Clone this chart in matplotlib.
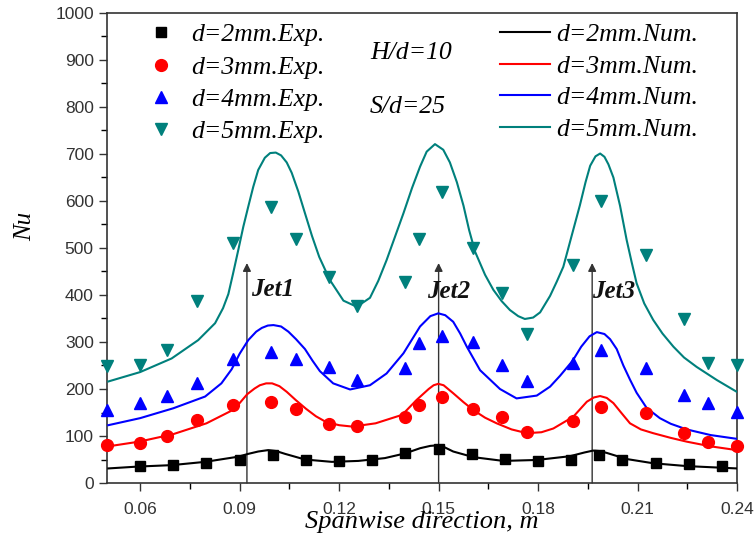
import numpy as np
import matplotlib
matplotlib.use("Agg")
import matplotlib.pyplot as plt
from matplotlib.lines import Line2D
from matplotlib.ticker import MultipleLocator, FormatStrFormatter

# --- experimental points (d = 3, 4, 5 mm share the same x positions) ---
x_exp = [0.050, 0.060, 0.068, 0.077, 0.088, 0.0995, 0.107, 0.117, 0.1255, 0.140, 0.144,
         0.151, 0.1605, 0.169, 0.1767, 0.1905, 0.199, 0.2125, 0.224, 0.2313, 0.240]
nu_exp_3 = [81, 86, 99, 134, 166, 172, 157, 125, 121, 140, 166,
            182, 157, 141, 108, 132, 161, 150, 107, 88, 79]
nu_exp_4 = [155, 171, 185, 213, 263, 278, 264, 247, 219, 244, 297,
            313, 301, 250, 217, 255, 283, 244, 187, 170, 152]
nu_exp_5 = [249, 251, 284, 388, 510, 588, 519, 439, 377, 428, 520,
            620, 501, 405, 318, 464, 599, 485, 348, 255, 251]

x_exp_2 = [0.060, 0.070, 0.080, 0.090, 0.100, 0.110, 0.120, 0.130, 0.140, 0.150,
           0.160, 0.170, 0.180, 0.190, 0.1984, 0.2052, 0.2156, 0.2256, 0.2353]
nu_exp_2 = [36, 38, 43, 49, 60, 48, 46, 50, 63, 72,
            62, 52, 47, 48, 60, 50, 43, 40, 36]

# --- numerical curves ---
x_num_2 = [0.0504, 0.0594, 0.0695, 0.0796, 0.0896, 0.0926, 0.0956, 0.0986, 0.1010, 0.1037,
           0.1097, 0.1178, 0.1258, 0.1338, 0.1399, 0.1444, 0.1475, 0.1494, 0.1515, 0.1544,
           0.1605, 0.1695, 0.1796, 0.1896, 0.1940, 0.1966, 0.1985, 0.2007, 0.2067, 0.2147,
           0.2248, 0.2399]
nu_num_2 = [31, 35, 38, 45, 56, 62, 67, 70, 68, 62,
            50, 45, 47, 53, 63, 74, 79, 80, 77, 67,
            55, 47, 49, 57, 65, 69, 68, 64, 51, 42,
            36, 31]

x_num_3 = [0.0504, 0.0597, 0.0700, 0.0800, 0.0873, 0.0900, 0.0923, 0.0945, 0.0961, 0.0980,
           0.0998, 0.1020, 0.1042, 0.1070, 0.1100, 0.1130, 0.1160, 0.1200, 0.1240, 0.1310,
           0.1390, 0.1434, 0.1470, 0.1485, 0.1499, 0.1515, 0.1544, 0.1575, 0.1605, 0.1640,
           0.1675, 0.1720, 0.1766, 0.1810, 0.1846, 0.1906, 0.1947, 0.1968, 0.1987, 0.2007,
           0.2027, 0.2050, 0.2077, 0.2110, 0.2147, 0.2200, 0.2248, 0.2320, 0.2399]
nu_num_3 = [78, 88, 104, 127, 153, 170, 189, 201, 208, 212,
            212, 206, 194, 176, 158, 142, 130, 123, 120, 127,
            145, 177, 200, 208, 211, 208, 191, 172, 155, 139,
            127, 114, 106, 108, 116, 141, 173, 182, 185, 181,
            170, 150, 127, 114, 106, 96, 88, 78, 70]

x_num_4 = [0.0504, 0.0600, 0.0700, 0.0796, 0.0845, 0.0876, 0.0900, 0.0926, 0.0950, 0.0967,
           0.0985, 0.1002, 0.1025, 0.1047, 0.1070, 0.1097, 0.1120, 0.1142, 0.1182, 0.1233,
           0.1293, 0.1343, 0.1394, 0.1444, 0.1475, 0.1499, 0.1520, 0.1544, 0.1565, 0.1585,
           0.1625, 0.1685, 0.1735, 0.1796, 0.1836, 0.1866, 0.1904, 0.1930, 0.1955, 0.1977,
           0.2000, 0.2017, 0.2037, 0.2057, 0.2077, 0.2097, 0.2127, 0.2167, 0.2200, 0.2248,
           0.2320, 0.2399]
nu_num_4 = [123, 138, 159, 184, 212, 242, 275, 304, 322, 330,
            335, 336, 333, 322, 306, 285, 260, 238, 212, 199,
            208, 233, 276, 333, 355, 361, 357, 343, 318, 290,
            240, 200, 180, 186, 205, 228, 260, 290, 312, 321,
            317, 306, 285, 250, 220, 192, 160, 138, 126, 114,
            102, 94]

x_num_5 = [0.0504, 0.0600, 0.0695, 0.0775, 0.0826, 0.0850, 0.0866, 0.0880, 0.0896, 0.0911,
           0.0926, 0.0941, 0.0956, 0.0976, 0.0992, 0.1009, 0.1025, 0.1042, 0.1057, 0.1077,
           0.1097, 0.1118, 0.1140, 0.1172, 0.1213, 0.1253, 0.1293, 0.1318, 0.1343, 0.1368,
           0.1394, 0.1420, 0.1444, 0.1464, 0.1489, 0.1514, 0.1534, 0.1555, 0.1575, 0.1592,
           0.1610, 0.1640, 0.1665, 0.1690, 0.1715, 0.1740, 0.1760, 0.1785, 0.1806, 0.1836,
           0.1856, 0.1876, 0.1900, 0.1926, 0.1943, 0.1957, 0.1973, 0.1987, 0.2000, 0.2012,
           0.2027, 0.2047, 0.2067, 0.2082, 0.2097, 0.2120, 0.2147, 0.2175, 0.2208, 0.2240,
           0.2278, 0.2339, 0.2399]
nu_num_5 = [216, 236, 265, 304, 340, 372, 402, 445, 496, 545,
            588, 630, 666, 692, 702, 703, 697, 682, 660, 620,
            574, 526, 481, 432, 388, 375, 394, 430, 474, 523,
            574, 628, 673, 705, 721, 709, 682, 640, 590, 538,
            492, 443, 411, 387, 368, 355, 349, 352, 363, 398,
            428, 460, 523, 591, 640, 675, 695, 701, 694, 678,
            650, 590, 517, 470, 425, 382, 347, 318, 290, 267,
            247, 219, 194]

jet_x = [0.0922, 0.150, 0.1963]
jet_labels = ["Jet1", "Jet2", "Jet3"]
jet_top = 468

exp_labels = ["d=2mm.Exp.", "d=3mm.Exp.", "d=4mm.Exp.", "d=5mm.Exp."]
num_labels = ["d=2mm.Num.", "d=3mm.Num.", "d=4mm.Num.", "d=5mm.Num."]
colors = ["#000000", "#ff0000", "#0000ff", "#00807c"]
markers = ["s", "o", "^", "v"]

SERIF = ["Liberation Serif", "DejaVu Serif"]
SANS = ["Liberation Sans", "DejaVu Sans"]

fig = plt.figure(figsize=(7.56, 5.41), dpi=100)
ax = fig.add_axes([0.1415, 0.1072, 0.8335, 0.8688])

# numerical curves
num_x = [x_num_2, x_num_3, x_num_4, x_num_5]
num_y = [nu_num_2, nu_num_3, nu_num_4, nu_num_5]
for xs, ys, c in zip(num_x, num_y, colors):
    ax.plot(xs, ys, color=c, lw=1.5, zorder=3, solid_joinstyle="round")

# experimental points
exp_x = [x_exp_2, x_exp, x_exp, x_exp]
exp_y = [nu_exp_2, nu_exp_3, nu_exp_4, nu_exp_5]
sizes = [7, 8.5, 9, 9]
for xs, ys, c, m, s in zip(exp_x, exp_y, colors, markers, sizes):
    ax.plot(xs, ys, ls="none", marker=m, ms=s, color=c, mec=c, zorder=4, clip_on=False)

# jet arrows
for jx in jet_x:
    ax.annotate("", xy=(jx, jet_top), xytext=(jx, 0),
                arrowprops=dict(arrowstyle="-|>", color="#333333", lw=1.0,
                                mutation_scale=12, shrinkA=0, shrinkB=0), zorder=2)
jet_font = dict(family=SERIF, style="italic", weight="bold", fontsize=18,
                va="center", ha="left", color="#111111")
ax.text(jet_x[0] + 0.0012, 412, jet_labels[0], **jet_font)
ax.text(jet_x[1] - 0.0036, 407, jet_labels[1], **jet_font)
ax.text(jet_x[2], 407, jet_labels[2], **jet_font)

ax.text(0.1293, 914, "H/d=10", family=SERIF, style="italic", fontsize=18.5,
        va="center", ha="left")
ax.text(0.1293, 800, "S/d=25", family=SERIF, style="italic", fontsize=18.5,
        va="center", ha="left")

ax.set_xlim(0.05, 0.24)
ax.set_ylim(0, 1000)
ax.xaxis.set_major_locator(MultipleLocator(0.03))
ax.xaxis.set_minor_locator(MultipleLocator(0.015))
ax.xaxis.set_major_formatter(FormatStrFormatter("%.2f"))
ax.yaxis.set_major_locator(MultipleLocator(100))
ax.yaxis.set_minor_locator(MultipleLocator(50))
ax.tick_params(which="major", length=6, width=1.0, direction="out",
               labelsize=12.5, colors="#333333", top=False, right=False)
ax.tick_params(axis="x", which="major", pad=8)
ax.tick_params(which="minor", length=4, width=1.0, direction="out",
               top=False, right=False)
for lab in ax.get_xticklabels() + ax.get_yticklabels():
    lab.set_family(SANS)
for sp in ax.spines.values():
    sp.set_linewidth(1.2)
    sp.set_color("#333333")

ax.set_xlabel("Spanwise direction, m", family=SERIF, style="italic", fontsize=19)
ax.xaxis.set_label_coords(0.5, -0.083, transform=ax.transAxes)
ax.xaxis.label.set_va("center")
ax.set_ylabel("Nu", family=SERIF, style="italic", fontsize=18)
ax.yaxis.set_label_coords(-0.13, 0.545, transform=ax.transAxes)
ax.yaxis.label.set_va("center")

# legends
exp_handles = [Line2D([], [], ls="none", marker=m, ms=s, color=c)
               for m, s, c in zip(markers, sizes, colors)]
num_handles = [Line2D([], [], color=c, lw=1.5) for c in colors]
leg1 = ax.legend(exp_handles, exp_labels, loc="upper left",
                 bbox_to_anchor=(0.066, 0.978), frameon=False,
                 prop=dict(family=SERIF, style="italic", size=18.5),
                 handlelength=1.0, handletextpad=0.65, labelspacing=0.36,
                 borderpad=0.0, borderaxespad=0.0)
ax.add_artist(leg1)
ax.legend(num_handles, num_labels, loc="upper left",
          bbox_to_anchor=(0.624, 0.978), frameon=False,
          prop=dict(family=SERIF, style="italic", size=18.5),
          handlelength=1.95, handletextpad=0.25, labelspacing=0.33,
          borderpad=0.0, borderaxespad=0.0)

fig.savefig("out.png", dpi=100)
